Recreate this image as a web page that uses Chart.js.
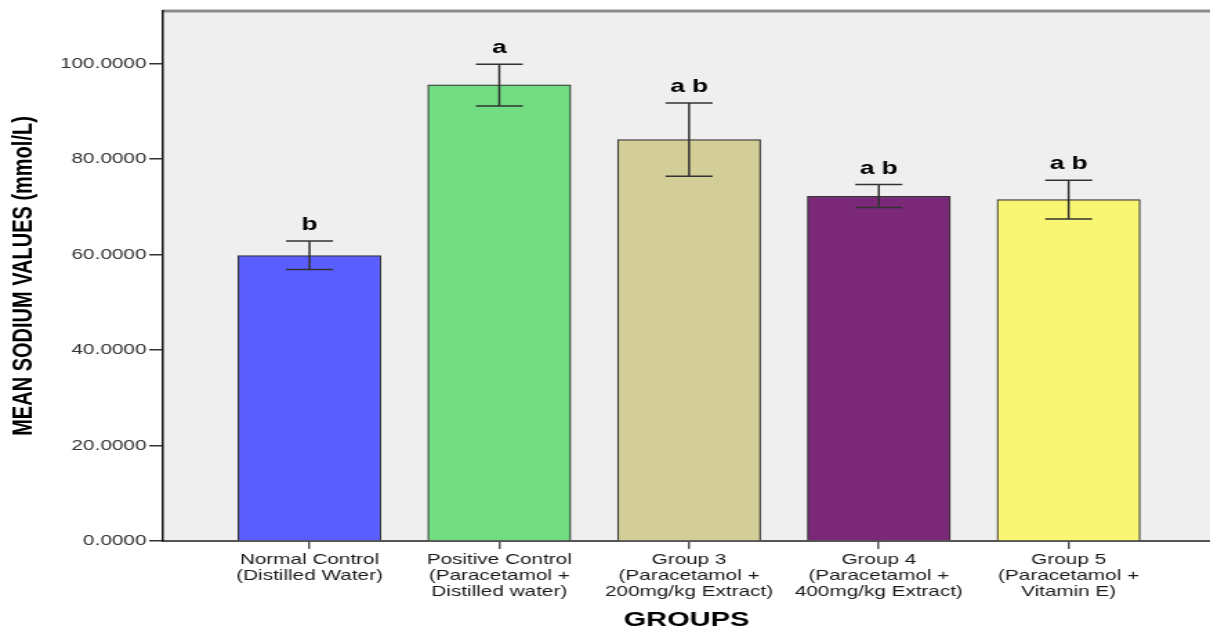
<html>
  <head>
    <meta charset="UTF-8">
    <title>Mean Sodium Values</title>
    <script src="https://cdn.jsdelivr.net/npm/chart.js@4.4.0/dist/chart.umd.min.js"></script>
    <style>
      body {
        margin: 0;
        background: #ffffff;
        overflow: hidden;
      }
      #chartSodium {
        display: block;
      }
    </style>
  </head>
  <body>
    <!-- drawn narrow, shown wide -->
    <canvas id="chartSodium" width="876" height="635" style="width:1210px;height:635px"></canvas>

    <script>
      const groups = ['Normal Control', 'Positive Control', 'Group 3', 'Group 4', 'Group 5'];
      const tickLabels = [
        ['Normal Control', '(Distilled Water)'],
        ['Positive Control', '(Paracetamol +', 'Distilled water)'],
        ['Group 3', '(Paracetamol +', '200mg/kg Extract)'],
        ['Group 4', '(Paracetamol +', '400mg/kg Extract)'],
        ['Group 5', '(Paracetamol +', 'Vitamin E)']
      ];
      const meanSodium = [59.78, 95.52, 84.08, 72.20, 71.51];
      const errLow = [56.85, 91.12, 76.39, 69.84, 67.45];
      const errHigh = [62.84, 99.85, 91.75, 74.65, 75.55];
      const sigLetters = ['b', 'a', 'a b', 'a b', 'a b'];
      const barColors = ['#5b5eff', '#71dc82', '#d3cd97', '#7b2878', '#f9f673'];

      const plotBackground = {
        id: 'plotBackground',
        beforeDraw(chart) {
          const {ctx, chartArea: a} = chart;
          ctx.save();
          ctx.fillStyle = '#efefef';
          ctx.fillRect(a.left, a.top, a.right - a.left, a.bottom - a.top);
          ctx.strokeStyle = '#8a8a8a';
          ctx.lineWidth = 3;
          ctx.beginPath();
          ctx.moveTo(a.left, a.top);
          ctx.lineTo(a.right, a.top);
          ctx.stroke();
          ctx.restore();
        }
      };

      // error bars and the significance letters above them
      const errorBars = {
        id: 'errorBars',
        afterDatasetsDraw(chart) {
          const {ctx, scales: {x, y}} = chart;
          ctx.save();
          ctx.strokeStyle = '#333333';
          ctx.lineWidth = 1.5;
          for (let i = 0; i < groups.length; i++) {
            const px = x.getPixelForValue(i);
            const top = y.getPixelForValue(errHigh[i]);
            const bot = y.getPixelForValue(errLow[i]);
            ctx.beginPath();
            ctx.moveTo(px, top);
            ctx.lineTo(px, bot);
            ctx.moveTo(px - 17, top);
            ctx.lineTo(px + 17, top);
            ctx.moveTo(px - 17, bot);
            ctx.lineTo(px + 17, bot);
            ctx.stroke();

            ctx.fillStyle = '#000000';
            ctx.font = 'bold 19px "Liberation Sans", Arial, sans-serif';
            ctx.textAlign = 'center';
            ctx.textBaseline = 'alphabetic';
            ctx.fillText(sigLetters[i], px, top - 11);
          }
          ctx.restore();
        }
      };

      new Chart(document.getElementById('chartSodium'), {
        type: 'bar',
        data: {
          datasets: [{
            data: meanSodium.map((v, i) => ({x: i, y: v})),
            backgroundColor: barColors,
            borderColor: '#333333',
            borderWidth: 1.2,
            barThickness: 103.5,
          }]
        },
        options: {
          responsive: false,
          devicePixelRatio: 1,
          animation: false,
          layout: {
            padding: {top: 11, left: 0, right: 0, bottom: 0}
          },
          plugins: {
            legend: {display: false},
            tooltip: {enabled: false},
          },
          scales: {
            x: {
              type: 'linear',
              min: -0.772,
              max: 4.745,
              offset: false,
              afterBuildTicks: (s) => {
                s.ticks = groups.map((g, i) => ({value: i}));
              },
              afterFit: (s) => {
                s.height = 94;
              },
              grid: {
                offset: false,
                drawOnChartArea: false,
                drawTicks: true,
                tickLength: 8,
                color: '#555555',
                lineWidth: 1.5,
              },
              border: {
                display: true,
                color: '#555555',
                width: 2,
              },
              ticks: {
                autoSkip: false,
                maxRotation: 0,
                padding: 3,
                color: '#1a1a1a',
                font: {family: '"Liberation Sans", Arial, sans-serif', size: 15, lineHeight: 1.05},
                callback: (v) => tickLabels[v],
              },
              title: {
                display: true,
                text: 'GROUPS',
                color: '#000000',
                font: {family: '"Liberation Sans", Arial, sans-serif', size: 21, weight: 'bold'},
                padding: {top: 0, bottom: 2},
              },
            },
            y: {
              min: 0,
              max: 111,
              afterFit: (s) => {
                s.width = 118;
              },
              grid: {
                drawOnChartArea: false,
                drawTicks: true,
                tickLength: 10,
                color: '#333333',
                lineWidth: 1.5,
              },
              border: {
                display: true,
                color: '#111111',
                width: 1.5,
              },
              ticks: {
                stepSize: 20,
                includeBounds: false,
                padding: 2,
                color: '#333333',
                font: {family: '"Liberation Sans", Arial, sans-serif', size: 15},
                callback: (v) => v.toFixed(4),
              },
              title: {
                display: true,
                text: 'MEAN SODIUM VALUES (mmol/L)',
                color: '#000000',
                font: {family: '"Liberation Sans", Arial, sans-serif', size: 20, weight: 'bold'},
                padding: {top: 5, bottom: 0},
              },
            },
          },
        },
        plugins: [plotBackground, errorBars],
      });
    </script>
  </body>
</html>
